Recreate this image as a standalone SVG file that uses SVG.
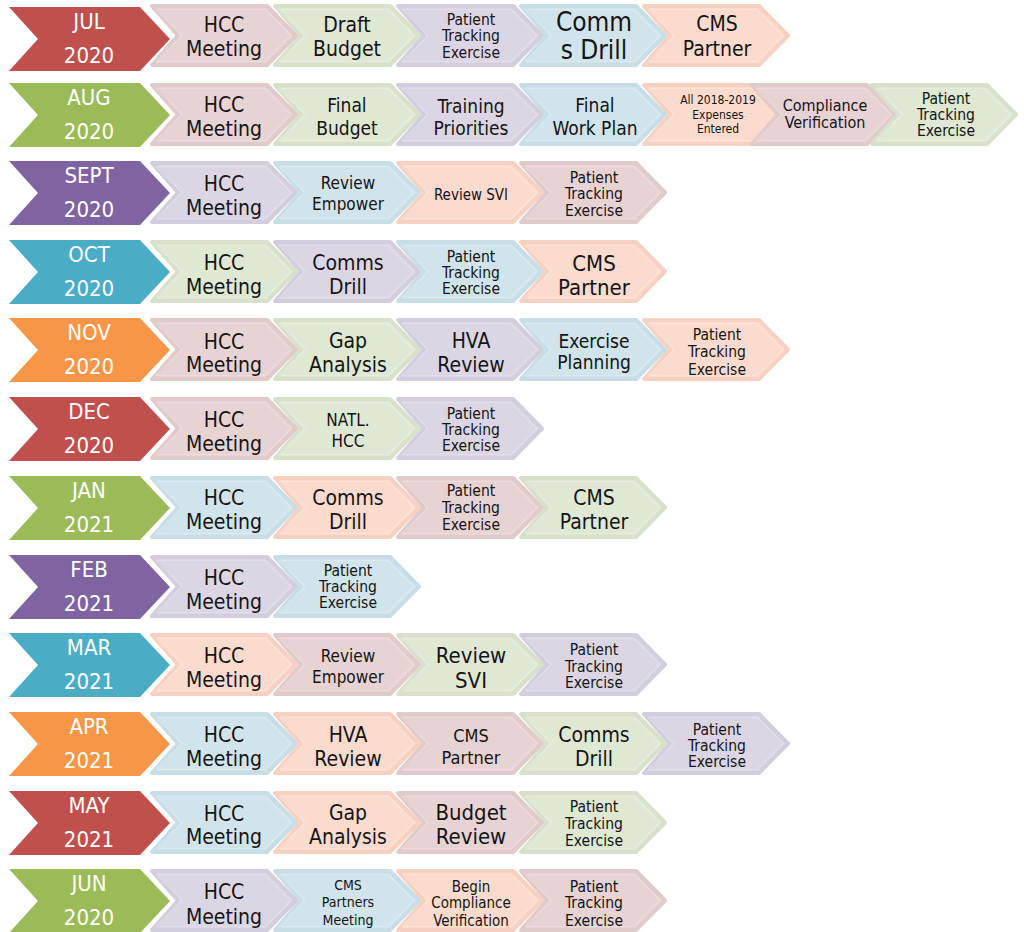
<svg xmlns="http://www.w3.org/2000/svg" width="1024" height="932" viewBox="0 0 1024 932">
<style>
text{font-family:'DejaVu Sans Condensed','DejaVu Sans',sans-serif;font-stretch:condensed;text-anchor:middle;fill:#141414}
.m text{fill:#fff;font-size:22px}
.r{fill:#C0504D}.g{fill:#9BBB59}.p{fill:#8064A2}.t{fill:#4BACC6}.o{fill:#F79646}
.pk{fill:#E7D3D3;stroke:#E1CACA}.gr{fill:#DFE8D3;stroke:#D7E1CA}.pu{fill:#DCD6E4;stroke:#D4CDDD}.bl{fill:#D1E4EB;stroke:#C8DEE6}.pe{fill:#FBDBCD;stroke:#F6D1C2}
.c{stroke-width:4;stroke-linejoin:round}
.hl{fill:none;stroke:#fff;stroke-opacity:.22;stroke-width:1.2;stroke-linejoin:round}
.s12{font-size:12px}.s14{font-size:14px}.s15{font-size:15px}.s155{font-size:15.5px}.s16{font-size:16px}.s17{font-size:17px}.s18{font-size:18px}.s19{font-size:19px}.s21{font-size:21px}.s22{font-size:22px}.s26{font-size:26px}
</style>
<defs>
<path id="chev" d="M2,2 H117 L146,31.5 L117,61 H2 L28,31.5 Z"/>
<path id="inner" d="M6,5.5 H115 L141,31.5 L115,57.5 H6 L32,31.5 Z"/>
<path id="mon" d="M9,0 H140 L170,32 L140,64 H9 L38,32 Z"/>
</defs>

<!-- Row 1 JUL 2020 -->
<g id="jul-2020" class="m"><use href="#mon" class="r" transform="translate(0,7)"/><text x="89" y="29">JUL</text><text x="89" y="63">2020</text></g>
<g id="jul-hcc"><use href="#chev" class="c pk" transform="translate(150,4)"/><use href="#inner" class="hl" transform="translate(150,4)"/><text class="s21" x="224" y="32">HCC</text><text class="s21" x="224" y="56">Meeting</text></g>
<g id="jul-budget"><use href="#chev" class="c gr" transform="translate(273,4)"/><use href="#inner" class="hl" transform="translate(273,4)"/><text class="s21" x="347" y="32">Draft</text><text class="s21" x="347" y="56">Budget</text></g>
<g id="jul-pte"><use href="#chev" class="c pu" transform="translate(396,4)"/><use href="#inner" class="hl" transform="translate(396,4)"/><text class="s155" x="471" y="24.5">Patient</text><text class="s155" x="471" y="41">Tracking</text><text class="s155" x="471" y="57.5">Exercise</text></g>
<g id="jul-comms"><use href="#chev" class="c bl" transform="translate(519,4)"/><use href="#inner" class="hl" transform="translate(519,4)"/><text class="s26" x="594" y="31">Comm</text><text class="s26" x="594" y="59">s Drill</text></g>
<g id="jul-cms"><use href="#chev" class="c pe" transform="translate(642,4)"/><use href="#inner" class="hl" transform="translate(642,4)"/><text class="s21" x="717" y="31">CMS</text><text class="s21" x="717" y="56">Partner</text></g>

<!-- Row 2 AUG 2020 -->
<g id="aug-2020" class="m"><use href="#mon" class="g" transform="translate(0,83)"/><text x="89" y="105">AUG</text><text x="89" y="139">2020</text></g>
<g id="aug-hcc"><use href="#chev" class="c pk" transform="translate(150,83)"/><use href="#inner" class="hl" transform="translate(150,83)"/><text class="s21" x="224" y="112">HCC</text><text class="s21" x="224" y="136">Meeting</text></g>
<g id="aug-budget"><use href="#chev" class="c gr" transform="translate(273,83)"/><use href="#inner" class="hl" transform="translate(273,83)"/><text class="s19" x="347" y="112">Final</text><text class="s19" x="347" y="135">Budget</text></g>
<g id="aug-training"><use href="#chev" class="c pu" transform="translate(396,83)"/><use href="#inner" class="hl" transform="translate(396,83)"/><text class="s19" x="471" y="113">Training</text><text class="s19" x="471" y="135">Priorities</text></g>
<g id="aug-workplan"><use href="#chev" class="c bl" transform="translate(519,83)"/><use href="#inner" class="hl" transform="translate(519,83)"/><text class="s19" x="595" y="112">Final</text><text class="s19" x="595" y="135">Work Plan</text></g>
<g id="aug-expenses"><use href="#chev" class="c pe" transform="translate(642,83)"/><use href="#inner" class="hl" transform="translate(642,83)"/><text class="s12" x="718" y="104">All 2018-2019</text><text class="s12" x="718" y="119">Expenses</text><text class="s12" x="718" y="133">Entered</text></g>
<g id="aug-compliance"><use href="#chev" class="c pk" transform="translate(750,83)"/><use href="#inner" class="hl" transform="translate(750,83)"/><text class="s16" x="825" y="111">Compliance</text><text class="s16" x="825" y="128">Verification</text></g>
<g id="aug-pte"><use href="#chev" class="c gr" transform="translate(870,83)"/><use href="#inner" class="hl" transform="translate(870,83)"/><text class="s155" x="946" y="104">Patient</text><text class="s155" x="946" y="120">Tracking</text><text class="s155" x="946" y="136">Exercise</text></g>

<!-- Row 3 SEPT 2020 -->
<g id="sept-2020" class="m"><use href="#mon" class="p" transform="translate(0,161)"/><text x="89" y="183">SEPT</text><text x="89" y="217">2020</text></g>
<g id="sept-hcc"><use href="#chev" class="c pu" transform="translate(150,161)"/><use href="#inner" class="hl" transform="translate(150,161)"/><text class="s21" x="224" y="191">HCC</text><text class="s21" x="224" y="215">Meeting</text></g>
<g id="sept-empower"><use href="#chev" class="c bl" transform="translate(273,161)"/><use href="#inner" class="hl" transform="translate(273,161)"/><text class="s17" x="348" y="189">Review</text><text class="s17" x="348" y="210">Empower</text></g>
<g id="sept-svi"><use href="#chev" class="c pe" transform="translate(396,161)"/><use href="#inner" class="hl" transform="translate(396,161)"/><text class="s15" x="471" y="199.5">Review SVI</text></g>
<g id="sept-pte"><use href="#chev" class="c pk" transform="translate(519,161)"/><use href="#inner" class="hl" transform="translate(519,161)"/><text class="s155" x="594" y="182.5">Patient</text><text class="s155" x="594" y="199">Tracking</text><text class="s155" x="594" y="215.5">Exercise</text></g>

<!-- Row 4 OCT 2020 -->
<g id="oct-2020" class="m"><use href="#mon" class="t" transform="translate(0,240)"/><text x="89" y="262">OCT</text><text x="89" y="296">2020</text></g>
<g id="oct-hcc"><use href="#chev" class="c gr" transform="translate(150,240)"/><use href="#inner" class="hl" transform="translate(150,240)"/><text class="s21" x="224" y="270">HCC</text><text class="s21" x="224" y="294">Meeting</text></g>
<g id="oct-comms"><use href="#chev" class="c pu" transform="translate(273,240)"/><use href="#inner" class="hl" transform="translate(273,240)"/><text class="s21" x="348" y="270">Comms</text><text class="s21" x="348" y="294">Drill</text></g>
<g id="oct-pte"><use href="#chev" class="c bl" transform="translate(396,240)"/><use href="#inner" class="hl" transform="translate(396,240)"/><text class="s155" x="471" y="261.5">Patient</text><text class="s155" x="471" y="277.5">Tracking</text><text class="s155" x="471" y="293.5">Exercise</text></g>
<g id="oct-cms"><use href="#chev" class="c pe" transform="translate(519,240)"/><use href="#inner" class="hl" transform="translate(519,240)"/><text class="s22" x="594" y="271">CMS</text><text class="s22" x="594" y="295">Partner</text></g>

<!-- Row 5 NOV 2020 -->
<g id="nov-2020" class="m"><use href="#mon" class="o" transform="translate(0,318)"/><text x="89" y="340">NOV</text><text x="89" y="374">2020</text></g>
<g id="nov-hcc"><use href="#chev" class="c pk" transform="translate(150,318)"/><use href="#inner" class="hl" transform="translate(150,318)"/><text class="s21" x="224" y="349">HCC</text><text class="s21" x="224" y="372">Meeting</text></g>
<g id="nov-gap"><use href="#chev" class="c gr" transform="translate(273,318)"/><use href="#inner" class="hl" transform="translate(273,318)"/><text class="s21" x="348" y="348">Gap</text><text class="s21" x="348" y="372">Analysis</text></g>
<g id="nov-hva"><use href="#chev" class="c pu" transform="translate(396,318)"/><use href="#inner" class="hl" transform="translate(396,318)"/><text class="s21" x="471" y="348">HVA</text><text class="s21" x="471" y="372">Review</text></g>
<g id="nov-planning"><use href="#chev" class="c bl" transform="translate(519,318)"/><use href="#inner" class="hl" transform="translate(519,318)"/><text class="s19" x="594" y="348">Exercise</text><text class="s19" x="594" y="369">Planning</text></g>
<g id="nov-pte"><use href="#chev" class="c pe" transform="translate(642,318)"/><use href="#inner" class="hl" transform="translate(642,318)"/><text class="s155" x="717" y="339.5">Patient</text><text class="s155" x="717" y="357">Tracking</text><text class="s155" x="717" y="374.5">Exercise</text></g>

<!-- Row 6 DEC 2020 -->
<g id="dec-2020" class="m"><use href="#mon" class="r" transform="translate(0,397)"/><text x="89" y="419">DEC</text><text x="89" y="453">2020</text></g>
<g id="dec-hcc"><use href="#chev" class="c pk" transform="translate(150,397)"/><use href="#inner" class="hl" transform="translate(150,397)"/><text class="s21" x="224" y="427">HCC</text><text class="s21" x="224" y="451">Meeting</text></g>
<g id="dec-natl"><use href="#chev" class="c gr" transform="translate(273,397)"/><use href="#inner" class="hl" transform="translate(273,397)"/><text class="s17" x="348" y="426">NATL.</text><text class="s17" x="348" y="447">HCC</text></g>
<g id="dec-pte"><use href="#chev" class="c pu" transform="translate(396,397)"/><use href="#inner" class="hl" transform="translate(396,397)"/><text class="s155" x="471" y="418.5">Patient</text><text class="s155" x="471" y="434.5">Tracking</text><text class="s155" x="471" y="450.5">Exercise</text></g>

<!-- Row 7 JAN 2021 -->
<g id="jan-2021" class="m"><use href="#mon" class="g" transform="translate(0,476)"/><text x="89" y="498">JAN</text><text x="89" y="532">2021</text></g>
<g id="jan-hcc"><use href="#chev" class="c bl" transform="translate(150,476)"/><use href="#inner" class="hl" transform="translate(150,476)"/><text class="s21" x="224" y="505">HCC</text><text class="s21" x="224" y="529">Meeting</text></g>
<g id="jan-comms"><use href="#chev" class="c pe" transform="translate(273,476)"/><use href="#inner" class="hl" transform="translate(273,476)"/><text class="s21" x="348" y="505">Comms</text><text class="s21" x="348" y="529">Drill</text></g>
<g id="jan-pte"><use href="#chev" class="c pk" transform="translate(396,476)"/><use href="#inner" class="hl" transform="translate(396,476)"/><text class="s155" x="471" y="495.5">Patient</text><text class="s155" x="471" y="512.5">Tracking</text><text class="s155" x="471" y="529.5">Exercise</text></g>
<g id="jan-cms"><use href="#chev" class="c gr" transform="translate(519,476)"/><use href="#inner" class="hl" transform="translate(519,476)"/><text class="s21" x="594" y="505">CMS</text><text class="s21" x="594" y="529">Partner</text></g>

<!-- Row 8 FEB 2021 -->
<g id="feb-2021" class="m"><use href="#mon" class="p" transform="translate(0,555)"/><text x="89" y="577">FEB</text><text x="89" y="611">2021</text></g>
<g id="feb-hcc"><use href="#chev" class="c pu" transform="translate(150,555)"/><use href="#inner" class="hl" transform="translate(150,555)"/><text class="s21" x="224" y="585">HCC</text><text class="s21" x="224" y="609">Meeting</text></g>
<g id="feb-pte"><use href="#chev" class="c bl" transform="translate(273,555)"/><use href="#inner" class="hl" transform="translate(273,555)"/><text class="s155" x="348" y="575.5">Patient</text><text class="s155" x="348" y="591.5">Tracking</text><text class="s155" x="348" y="607.5">Exercise</text></g>

<!-- Row 9 MAR 2021 -->
<g id="mar-2021" class="m"><use href="#mon" class="t" transform="translate(0,633)"/><text x="89" y="655">MAR</text><text x="89" y="689">2021</text></g>
<g id="mar-hcc"><use href="#chev" class="c pe" transform="translate(150,633)"/><use href="#inner" class="hl" transform="translate(150,633)"/><text class="s21" x="224" y="663">HCC</text><text class="s21" x="224" y="687">Meeting</text></g>
<g id="mar-empower"><use href="#chev" class="c pk" transform="translate(273,633)"/><use href="#inner" class="hl" transform="translate(273,633)"/><text class="s17" x="348" y="662">Review</text><text class="s17" x="348" y="683">Empower</text></g>
<g id="mar-svi"><use href="#chev" class="c gr" transform="translate(396,633)"/><use href="#inner" class="hl" transform="translate(396,633)"/><text class="s22" x="471" y="663">Review</text><text class="s22" x="471" y="688">SVI</text></g>
<g id="mar-pte"><use href="#chev" class="c pu" transform="translate(519,633)"/><use href="#inner" class="hl" transform="translate(519,633)"/><text class="s155" x="594" y="654.5">Patient</text><text class="s155" x="594" y="671.5">Tracking</text><text class="s155" x="594" y="688">Exercise</text></g>

<!-- Row 10 APR 2021 -->
<g id="apr-2021" class="m"><use href="#mon" class="o" transform="translate(0,712)"/><text x="89" y="734">APR</text><text x="89" y="768">2021</text></g>
<g id="apr-hcc"><use href="#chev" class="c bl" transform="translate(150,712)"/><use href="#inner" class="hl" transform="translate(150,712)"/><text class="s21" x="224" y="742">HCC</text><text class="s21" x="224" y="766">Meeting</text></g>
<g id="apr-hva"><use href="#chev" class="c pe" transform="translate(273,712)"/><use href="#inner" class="hl" transform="translate(273,712)"/><text class="s21" x="348" y="742">HVA</text><text class="s21" x="348" y="766">Review</text></g>
<g id="apr-cms"><use href="#chev" class="c pk" transform="translate(396,712)"/><use href="#inner" class="hl" transform="translate(396,712)"/><text class="s18" x="471" y="741.5">CMS</text><text class="s18" x="471" y="763.5">Partner</text></g>
<g id="apr-comms"><use href="#chev" class="c gr" transform="translate(519,712)"/><use href="#inner" class="hl" transform="translate(519,712)"/><text class="s21" x="594" y="742">Comms</text><text class="s21" x="594" y="766">Drill</text></g>
<g id="apr-pte"><use href="#chev" class="c pu" transform="translate(642,712)"/><use href="#inner" class="hl" transform="translate(642,712)"/><text class="s155" x="717" y="734.5">Patient</text><text class="s155" x="717" y="750.5">Tracking</text><text class="s155" x="717" y="766.5">Exercise</text></g>

<!-- Row 11 MAY 2021 -->
<g id="may-2021" class="m"><use href="#mon" class="r" transform="translate(0,791)"/><text x="89" y="813">MAY</text><text x="89" y="847">2021</text></g>
<g id="may-hcc"><use href="#chev" class="c bl" transform="translate(150,791)"/><use href="#inner" class="hl" transform="translate(150,791)"/><text class="s21" x="224" y="821">HCC</text><text class="s21" x="224" y="844">Meeting</text></g>
<g id="may-gap"><use href="#chev" class="c pe" transform="translate(273,791)"/><use href="#inner" class="hl" transform="translate(273,791)"/><text class="s21" x="348" y="820">Gap</text><text class="s21" x="348" y="844">Analysis</text></g>
<g id="may-budget"><use href="#chev" class="c pk" transform="translate(396,791)"/><use href="#inner" class="hl" transform="translate(396,791)"/><text class="s22" x="471" y="820">Budget</text><text class="s22" x="471" y="844">Review</text></g>
<g id="may-pte"><use href="#chev" class="c gr" transform="translate(519,791)"/><use href="#inner" class="hl" transform="translate(519,791)"/><text class="s155" x="594" y="811.5">Patient</text><text class="s155" x="594" y="829">Tracking</text><text class="s155" x="594" y="845.5">Exercise</text></g>

<!-- Row 12 JUN 2020 -->
<g id="jun-2020" class="m"><use href="#mon" class="g" transform="translate(0,869)"/><text x="89" y="891">JUN</text><text x="89" y="925">2020</text></g>
<g id="jun-hcc"><use href="#chev" class="c pu" transform="translate(150,869)"/><use href="#inner" class="hl" transform="translate(150,869)"/><text class="s21" x="224" y="899">HCC</text><text class="s21" x="224" y="924">Meeting</text></g>
<g id="jun-cms"><use href="#chev" class="c bl" transform="translate(273,869)"/><use href="#inner" class="hl" transform="translate(273,869)"/><text class="s14" x="348" y="890">CMS</text><text class="s14" x="348" y="907">Partners</text><text class="s14" x="348" y="925">Meeting</text></g>
<g id="jun-compliance"><use href="#chev" class="c pe" transform="translate(396,869)"/><use href="#inner" class="hl" transform="translate(396,869)"/><text class="s15" x="471" y="891.5">Begin</text><text class="s15" x="471" y="907.5">Compliance</text><text class="s15" x="471" y="925.5">Verification</text></g>
<g id="jun-pte"><use href="#chev" class="c pk" transform="translate(519,869)"/><use href="#inner" class="hl" transform="translate(519,869)"/><text class="s155" x="594" y="891.5">Patient</text><text class="s155" x="594" y="907.5">Tracking</text><text class="s155" x="594" y="925.5">Exercise</text></g>
</svg>
